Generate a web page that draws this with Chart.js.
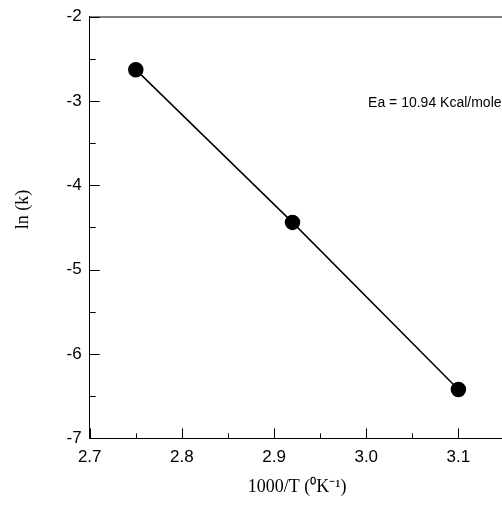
<!DOCTYPE html>
<html>
<head>
<meta charset="utf-8">
<script src="https://cdn.jsdelivr.net/npm/chart.js@4/dist/chart.umd.min.js"></script>
<style>
  html, body { margin: 0; padding: 0; background: #fff; overflow: hidden; }
  #wrap { position: relative; width: 513px; height: 509px; }
</style>
</head>
<body>
<div id="wrap"><canvas id="chart"></canvas></div>
<script>
// inverse temperature (1000/T) and ln(k)
const invT = [2.75, 2.92, 3.1];
const lnK = [-2.63, -4.44, -6.42];

const xTicks = [2.7, 2.8, 2.9, 3.0, 3.1];
const xMinor = [2.75, 2.85, 2.95, 3.05, 3.15];
const yTicks = [-7, -6, -5, -4, -3, -2];
const yMinor = [-6.5, -5.5, -4.5, -3.5, -2.5];

const note = "Ea = 10.94 Kcal/mole";
const notePos = { x: 3.002, y: -3.03 };

// ticks point into the plot, plus the top frame line and the Ea note
const frame = {
  id: "frame",
  afterDraw(chart) {
    const { ctx, chartArea: a, scales: { x, y } } = chart;
    ctx.save();
    ctx.strokeStyle = "#000";
    ctx.lineWidth = 1;
    ctx.beginPath();
    ctx.moveTo(a.left, a.top + 0.5);
    ctx.lineTo(a.right, a.top + 0.5);
    xTicks.forEach(v => {
      const px = Math.round(x.getPixelForValue(v)) + 0.5;
      ctx.moveTo(px, a.bottom);
      ctx.lineTo(px, a.bottom - 10);
    });
    xMinor.forEach(v => {
      const px = Math.round(x.getPixelForValue(v)) + 0.5;
      ctx.moveTo(px, a.bottom);
      ctx.lineTo(px, a.bottom - 5);
    });
    yTicks.forEach(v => {
      const py = Math.round(y.getPixelForValue(v)) + 0.5;
      ctx.moveTo(a.left, py);
      ctx.lineTo(a.left + 10, py);
    });
    yMinor.forEach(v => {
      const py = Math.round(y.getPixelForValue(v)) + 0.5;
      ctx.moveTo(a.left, py);
      ctx.lineTo(a.left + 6, py);
    });
    ctx.stroke();

    ctx.fillStyle = "#000";
    ctx.font = "14px 'Liberation Sans', Arial, sans-serif";
    ctx.textAlign = "left";
    ctx.textBaseline = "middle";
    ctx.fillText(note, x.getPixelForValue(notePos.x), y.getPixelForValue(notePos.y));
    ctx.restore();
  }
};

new Chart(document.getElementById("chart"), {
  type: "scatter",
  data: {
    datasets: [{
      data: invT.map((v, i) => ({ x: v, y: lnK[i] })),
      showLine: true,
      borderColor: "#000",
      borderWidth: 1.5,
      backgroundColor: "#000",
      pointRadius: 7,
      pointHoverRadius: 7,
    }],
  },
  options: {
    responsive: true,
    maintainAspectRatio: false,
    animation: false,
    events: [],
    layout: { padding: { top: 4, right: 0, left: 12, bottom: 11 } },
    plugins: { legend: { display: false }, tooltip: { enabled: false } },
    scales: {
      x: {
        type: "linear",
        min: 2.7,
        max: 3.15,
        afterBuildTicks: s => { s.ticks = xTicks.map(v => ({ value: v })); },
        grid: { display: false, drawTicks: false },
        border: { display: true, color: "#000", width: 1 },
        ticks: {
          color: "#000",
          padding: 10,
          maxRotation: 0,
          font: { family: "'Liberation Sans', Arial, sans-serif", size: 17, lineHeight: 1 },
          callback: v => v.toFixed(1),
        },
        title: {
          display: true,
          text: "1000/T (\u2070K\u207B\u00B9)",
          color: "#000",
          font: { family: "'Liberation Serif', 'Times New Roman', serif", size: 18 },
          padding: { top: 1, bottom: 0 },
        },
      },
      y: {
        type: "linear",
        min: -7,
        max: -2,
        afterBuildTicks: s => { s.ticks = yTicks.map(v => ({ value: v })); },
        grid: { display: false, drawTicks: false },
        border: { display: true, color: "#000", width: 1 },
        ticks: {
          color: "#000",
          padding: 8,
          font: { family: "'Liberation Sans', Arial, sans-serif", size: 17, lineHeight: 1 },
          callback: v => String(v),
        },
        title: {
          display: true,
          text: "        ln (k)",
          color: "#000",
          font: { family: "'Liberation Serif', 'Times New Roman', serif", size: 18 },
          padding: { top: 0, bottom: 25 },
        },
      },
    },
  },
  plugins: [frame],
});
</script>
</body>
</html>
